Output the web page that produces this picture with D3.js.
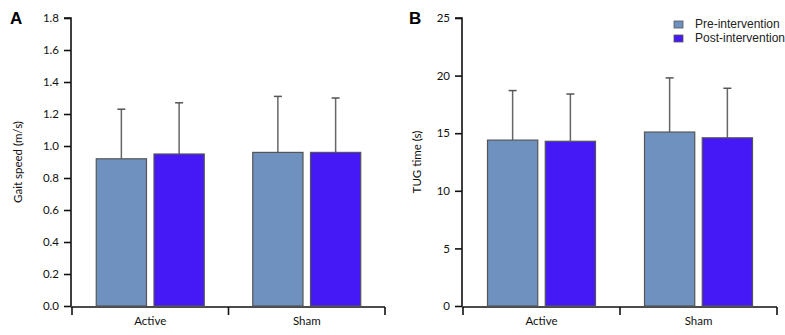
<!DOCTYPE html>
<html>
<head>
<meta charset="utf-8">
<script src="https://cdn.jsdelivr.net/npm/d3@7"></script>
<style>
  html, body { margin: 0; padding: 0; background: #fff; }
  svg { display: block; }
  .tick text { font-family: Lato, "Open Sans", sans-serif; font-size: 11.5px; fill: #111; }
  .axis-title { font-family: Lato, "Open Sans", sans-serif; font-size: 11.5px; fill: #111; }
  .panel-letter { font-family: "Liberation Sans", Arial, sans-serif; font-weight: bold; font-size: 17px; fill: #000; }
  .legend-text { font-family: "Liberation Sans", Arial, sans-serif; font-size: 12px; fill: #222; }
</style>
</head>
<body>
<div id="chart"></div>
<script>
(function () {
  // groups and series
  const groups = ['Active', 'Sham'];
  const series = ['Pre-intervention', 'Post-intervention'];
  const colors = ['#6e91bf', '#4519f5'];

  // panel A: gait speed (m/s)
  const gaitMean = [[0.92, 0.95], [0.96, 0.96]];
  const gaitSd = [[0.31, 0.32], [0.35, 0.34]];
  const gaitTicks = [0, 0.2, 0.4, 0.6, 0.8, 1.0, 1.2, 1.4, 1.6, 1.8];

  // panel B: TUG time (s)
  const tugMean = [[14.4, 14.3], [15.1, 14.6]];
  const tugSd = [[4.3, 4.1], [4.7, 4.3]];
  const tugTicks = [0, 5, 10, 15, 20, 25];

  const W = 785, H = 335;
  const svg = d3.select('#chart').append('svg')
    .attr('width', W)
    .attr('height', H);

  function drawPanel(opts) {
    const g = svg.append('g');
    const y = d3.scaleLinear().domain(opts.domain).range([306, 18]);
    const x0 = d3.scaleBand().domain(groups).range([opts.left + 1, opts.right]).paddingInner(0).paddingOuter(0);
    const x1 = d3.scaleBand().domain(series).range([0, 108]).paddingInner(0.13).paddingOuter(0);

    // y axis
    const yAxis = d3.axisLeft(y)
      .tickValues(opts.ticks)
      .tickFormat(opts.fmt)
      .tickSize(7)
      .tickPadding(5);
    const ya = g.append('g')
      .attr('transform', `translate(${opts.left},0)`)
      .call(yAxis);
    ya.select('.domain').attr('stroke', '#111').attr('stroke-width', 1.6).attr('d', `M-7,${y(opts.domain[1])}H0V${y(0)}`);
    ya.selectAll('.tick line').attr('stroke', '#111').attr('stroke-width', 1.6);

    // x axis with category boundary ticks
    const xa = g.append('g').attr('transform', 'translate(0,307)');
    xa.append('line')
      .attr('x1', opts.left).attr('x2', opts.right)
      .attr('stroke', '#111').attr('stroke-width', 1.6);
    const bounds = [x0.range()[0], x0(groups[1]), x0.range()[1]];
    xa.selectAll('.bound').data(bounds).join('line')
      .attr('class', 'bound')
      .attr('x1', d => d).attr('x2', d => d)
      .attr('y1', 0).attr('y2', 8)
      .attr('stroke', '#111').attr('stroke-width', 1.6);
    xa.selectAll('.cat').data(groups).join('text')
      .attr('class', 'cat')
      .attr('x', d => x0(d) + x0.bandwidth() / 2)
      .attr('y', 18)
      .attr('text-anchor', 'middle')
      .style('font-family', 'Lato, "Open Sans", sans-serif')
      .style('font-size', '11.5px')
      .style('fill', '#111')
      .text(d => d);

    // bars
    const rows = [];
    groups.forEach((grp, i) => series.forEach((s, j) => {
      rows.push({ grp, s, j, mean: opts.mean[i][j], sd: opts.sd[i][j] });
    }));
    const offset = (x0.bandwidth() - 108) / 2;
    const bx = d => x0(d.grp) + offset + x1(d.s);

    g.selectAll('.err').data(rows).join('line')
      .attr('class', 'err')
      .attr('x1', d => bx(d) + x1.bandwidth() / 2)
      .attr('x2', d => bx(d) + x1.bandwidth() / 2)
      .attr('y1', d => y(d.mean))
      .attr('y2', d => y(d.mean + d.sd))
      .attr('stroke', '#666').attr('stroke-width', 1.5);
    g.selectAll('.cap').data(rows).join('line')
      .attr('class', 'cap')
      .attr('x1', d => bx(d) + x1.bandwidth() / 2 - 4)
      .attr('x2', d => bx(d) + x1.bandwidth() / 2 + 4)
      .attr('y1', d => y(d.mean + d.sd))
      .attr('y2', d => y(d.mean + d.sd))
      .attr('stroke', '#555').attr('stroke-width', 1.5);

    g.selectAll('.bar').data(rows).join('rect')
      .attr('class', 'bar')
      .attr('x', d => bx(d))
      .attr('y', d => y(d.mean))
      .attr('width', x1.bandwidth())
      .attr('height', d => y(0) - y(d.mean))
      .attr('fill', d => colors[d.j])
      .attr('stroke', '#555')
      .attr('stroke-width', 1.2);

    // titles
    g.append('text')
      .attr('class', 'axis-title')
      .attr('transform', `translate(${opts.titleX},${(y(0) + y(opts.domain[1])) / 2}) rotate(-90)`)
      .attr('text-anchor', 'middle')
      .attr('dominant-baseline', 'middle')
      .text(opts.title);
    g.append('text')
      .attr('class', 'panel-letter')
      .attr('x', opts.letterX)
      .attr('y', 24)
      .text(opts.letter);
  }

  drawPanel({
    left: 71, right: 385, domain: [0, 1.8], ticks: gaitTicks,
    fmt: d3.format('.1f'), mean: gaitMean, sd: gaitSd,
    title: 'Gait speed (m/s)', titleX: 19, letter: 'A', letterX: 10
  });
  drawPanel({
    left: 462, right: 777, domain: [0, 25], ticks: tugTicks,
    fmt: d3.format('d'), mean: tugMean, sd: tugSd,
    title: 'TUG time (s)', titleX: 418, letter: 'B', letterX: 409
  });

  // legend
  const lg = svg.append('g').attr('transform', 'translate(674,21)');
  const item = lg.selectAll('.item').data(series).join('g')
    .attr('class', 'item')
    .attr('transform', (d, i) => `translate(0,${i * 14})`);
  item.append('rect')
    .attr('width', 9).attr('height', 7)
    .attr('fill', (d, i) => colors[i])
    .attr('stroke', '#555').attr('stroke-width', 0.8);
  item.append('text')
    .attr('class', 'legend-text')
    .attr('x', 21).attr('y', 4)
    .attr('dominant-baseline', 'middle')
    .text(d => d);
})();
</script>
</body>
</html>
